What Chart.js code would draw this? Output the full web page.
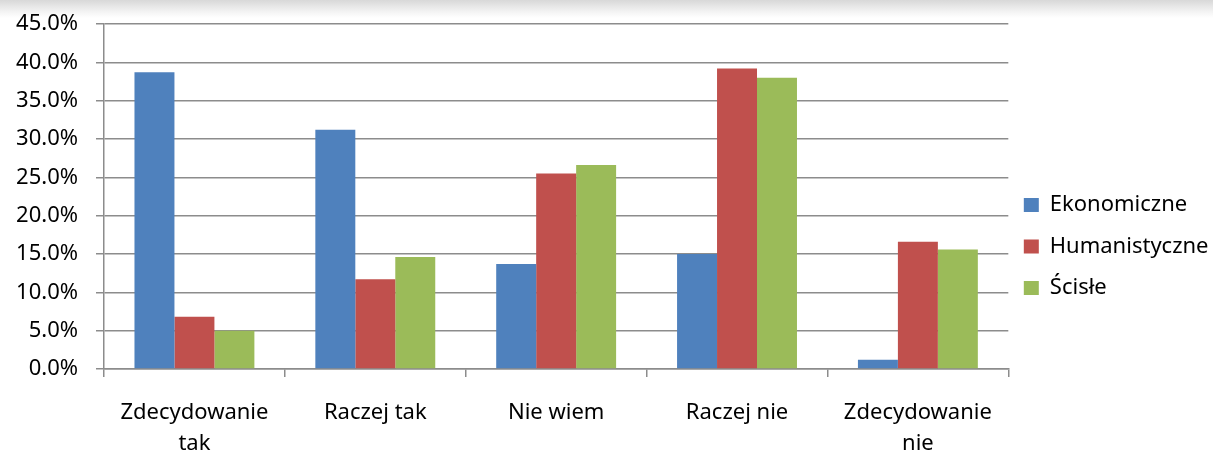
<!DOCTYPE html>
<html>
<head>
<meta charset="utf-8">
<script src="https://cdn.jsdelivr.net/npm/chart.js@4.4.0/dist/chart.umd.min.js"></script>
<style>
  html, body { margin: 0; padding: 0; }
  body {
    width: 1213px; height: 454px; overflow: hidden;
    background: linear-gradient(to bottom, #d8d8d8 0px, #f4f4f4 12px, #ffffff 18px, #ffffff 100%);
  }
  #chart { display: block; }
</style>
</head>
<body>
<canvas id="chart" width="1213" height="454"></canvas>
<script>
const categories = [['Zdecydowanie', 'tak'], 'Raczej tak', 'Nie wiem', 'Raczej nie', ['Zdecydowanie', 'nie']];
const seriesNames = ['Ekonomiczne', 'Humanistyczne', 'Ścisłe'];
const ekonomiczne = [38.7, 31.2, 13.7, 15.0, 1.2];
const humanistyczne = [6.8, 11.7, 25.5, 39.2, 16.6];
const scisle = [5.0, 14.6, 26.6, 38.0, 15.6];
const colors = ['#4F81BD', '#C0504D', '#9BBB59'];

const fontFamily = '"Noto Sans", "Open Sans", sans-serif';
const gridColor = '#8c8c8c';

// nudge the legend: Excel puts it lower than the centre and closer to the plot
const legendShift = {
    id: 'legendShift',
    afterLayout(chart) {
        const lg = chart.legend;
        if (lg) {
            lg.top += 19.5; lg.bottom += 19.5;
            lg.left -= 4; lg.right -= 4;
        }
    }
};

document.addEventListener('DOMContentLoaded', () => {
    const ctx = document.getElementById('chart').getContext('2d');
    const values = [ekonomiczne, humanistyczne, scisle];

    new Chart(ctx, {
        type: 'bar',
        data: {
            labels: categories,
            datasets: seriesNames.map((name, i) => ({
                label: name,
                data: values[i],
                backgroundColor: colors[i],
                borderWidth: 0,
                categoryPercentage: 0.663,
                barPercentage: 1.0
            }))
        },
        options: {
            responsive: false,
            animation: false,
            layout: { padding: { left: 12, top: 0, right: -9.5, bottom: 0 } },
            plugins: {
                tooltip: { enabled: false },
                legend: {
                    position: 'right',
                    labels: {
                        boxWidth: 15,
                        boxHeight: 14,
                        padding: 19.5,
                        color: '#000',
                        font: { family: fontFamily, size: 22 }
                    }
                }
            },
            scales: {
                x: {
                    afterFit: (scale) => { scale.height = 85; },
                    grid: {
                        drawOnChartArea: false,
                        drawTicks: true,
                        tickLength: 8,
                        color: gridColor,
                        lineWidth: 1.5
                    },
                    border: { color: gridColor, width: 1.5 },
                    ticks: {
                        color: '#000',
                        padding: 21,
                        maxRotation: 0,
                        autoSkip: false,
                        font: { family: fontFamily, size: 22, lineHeight: 1.38 }
                    }
                },
                y: {
                    min: 0,
                    max: 45,
                    afterFit: (scale) => { scale.width = 92; },
                    grid: {
                        color: gridColor,
                        lineWidth: 1.5,
                        tickLength: 8
                    },
                    border: { color: gridColor, width: 1.5 },
                    ticks: {
                        stepSize: 5,
                        color: '#000',
                        padding: 18,
                        font: { family: fontFamily, size: 22, lineHeight: 0.55 },
                        callback: (v) => v.toFixed(1) + '%'
                    }
                }
            }
        },
        plugins: [legendShift]
    });
});
</script>
</body>
</html>
